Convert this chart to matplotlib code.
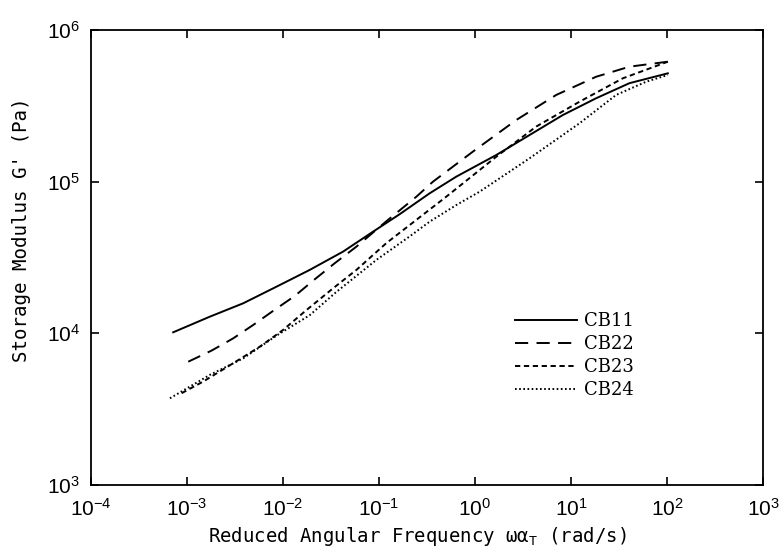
import numpy as np
import matplotlib
matplotlib.use("Agg")
import matplotlib.pyplot as plt
from matplotlib.ticker import LogLocator, NullLocator

plt.rcParams['font.family'] = ['Liberation Sans', 'DejaVu Sans']
plt.rcParams['mathtext.fontset'] = 'custom'
plt.rcParams['mathtext.rm'] = 'Liberation Sans'
plt.rcParams['mathtext.it'] = 'Liberation Sans:italic'
plt.rcParams['lines.scale_dashes'] = False

series_names = ["CB11", "CB22", "CB23", "CB24"]

cb11_freq = [7.18e-4, 1.73e-3, 3.85e-3, 8.55e-3, 1.90e-2, 4.23e-2, 8.67e-2, 0.164,
             0.337, 0.638, 1.67, 3.70, 8.22, 18.3, 40.6, 102]
cb11_mod = [1.016e4, 1.288e4, 1.578e4, 2.03e4, 2.62e4, 3.46e4, 4.68e4, 6.10e4,
            8.38e4, 1.079e5, 1.50e5, 2.03e5, 2.75e5, 3.55e5, 4.46e5, 5.18e5]

cb22_freq = [1.03e-3, 1.80e-3, 3.03e-3, 4.89e-3, 7.89e-3, 1.33e-2, 2.14e-2, 3.46e-2,
             5.82e-2, 0.120, 0.245, 0.365, 0.951, 2.69, 7.01, 18.3, 40.6, 102]
cb22_mod = [6.50e3, 7.69e3, 9.27e3, 1.135e4, 1.406e4, 1.766e4, 2.27e4, 2.90e4,
            3.73e4, 5.50e4, 7.96e4, 1.0e5, 1.578e5, 2.55e5, 3.73e5, 4.92e5, 5.73e5, 6.18e5]

cb23_freq = [8.79e-4, 1.476e-3, 3.03e-3, 5.74e-3, 1.00e-2, 1.76e-2, 3.32e-2, 5.82e-2,
             0.119, 0.245, 0.502, 1.67, 4.35, 12.3, 34.6, 102]
cb23_mod = [4.03e3, 4.81e3, 6.35e3, 8.17e3, 1.052e4, 1.426e4, 1.98e4, 2.62e4,
            3.93e4, 5.60e4, 7.96e4, 1.462e5, 2.31e5, 3.37e5, 4.80e5, 6.18e5]

cb24_freq = [6.64e-4, 1.73e-3, 3.85e-3, 8.55e-3, 1.90e-2, 3.55e-2, 9.40e-2, 0.208,
             0.337, 0.638, 1.117, 3.70, 12.3, 29.5, 60.7, 102]
cb24_mod = [3.73e3, 5.32e3, 6.84e3, 9.66e3, 1.318e4, 1.862e4, 3.05e4, 4.35e4,
            5.45e4, 7.01e4, 8.59e4, 1.426e5, 2.43e5, 3.73e5, 4.56e5, 5.05e5]

styles = {
    "CB11": dict(linestyle='-'),
    "CB22": dict(linestyle=(0, (9.5, 6.0))),
    "CB23": dict(linestyle=(0, (3.8, 2.6))),
    "CB24": dict(linestyle=(0, (1.2, 1.8))),
}

fig = plt.figure(figsize=(7.8, 5.5), dpi=100)
ax = fig.add_axes([91/780, 1-485/550, (763-91)/780, (485-30)/550])

data = [(cb11_freq, cb11_mod), (cb22_freq, cb22_mod), (cb23_freq, cb23_mod), (cb24_freq, cb24_mod)]
for name, (f, g) in zip(series_names, data):
    ax.plot(f, g, color='black', lw=1.4, label=name, **styles[name])

ax.set_xscale('log')
ax.set_yscale('log')
ax.set_xlim(1e-4, 1e3)
ax.set_ylim(1e3, 1e6)
ax.xaxis.set_major_locator(LogLocator(base=10, numticks=20))
ax.yaxis.set_major_locator(LogLocator(base=10, numticks=20))
ax.xaxis.set_minor_locator(NullLocator())
ax.yaxis.set_minor_locator(NullLocator())
ax.tick_params(which='major', direction='in', top=True, right=True, length=6, width=1.2,
               labelsize=15)
ax.tick_params(axis='x', pad=9)
ax.tick_params(axis='y', pad=8)
for s in ax.spines.values():
    s.set_linewidth(1.3)

ax.set_xlabel("Reduced Angular Frequency ωα$_{\\mathregular{T}}$ (rad/s)",
              family=['DejaVu Sans Mono'], fontsize=13.7)
ax.set_ylabel("Storage Modulus G' (Pa)", family=['DejaVu Sans Mono'], fontsize=13.8)
ax.xaxis.set_label_coords(0.485, -0.088)
ax.yaxis.set_label_coords(-0.09, 0.56)

leg = ax.legend(loc='upper left', bbox_to_anchor=((508-91)/672, 1-(305-30)/455),
                frameon=False, handlelength=3.4, handletextpad=0.4, labelspacing=0.28,
                prop={'family': 'DejaVu Serif', 'size': 13}, borderaxespad=0)

fig.savefig("out.png", dpi=100)
